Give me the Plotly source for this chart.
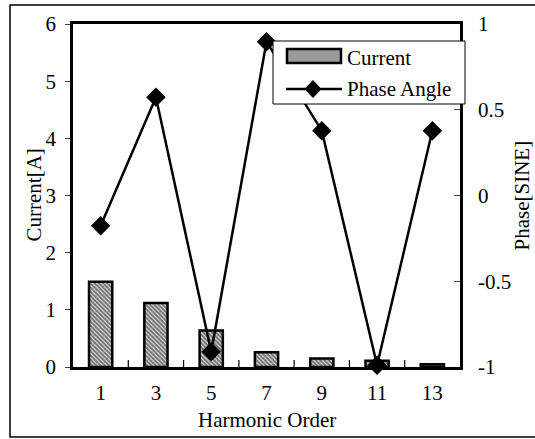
import plotly.graph_objects as go

orders = ["1", "3", "5", "7", "9", "11", "13"]
current = [1.49, 1.12, 0.64, 0.26, 0.15, 0.11, 0.05]
phase = [-0.176, 0.573, -0.911, 0.897, 0.378, -0.99, 0.378]
y1_ticks = [0, 1, 2, 3, 4, 5, 6]
y2_ticks = [-1, -0.5, 0, 0.5, 1]
y2_ticktext = ["-1", "-0.5", "0", "0.5", "1"]

FONT = "Liberation Serif"
FS = 21
L, R, T, B = 73, 460, 24, 367
W, H = 535, 439
pw = R - L
ph = B - T


def px(x):
    return (x - L) / pw


def py(y):
    return (B - y) / ph


fig = go.Figure()
fig.add_trace(go.Bar(
    x=orders, y=current, name="Current", width=0.42, showlegend=False,
    marker=dict(color="white", line=dict(color="black", width=2.5),
                pattern=dict(shape="\\", fgcolor="#000000", bgcolor="#dddddd",
                             size=3, solidity=0.6)),
))
fig.add_trace(go.Scatter(
    x=orders, y=phase, name="Phase Angle", yaxis="y2", mode="lines+markers",
    showlegend=False, cliponaxis=False,
    line=dict(color="black", width=2.5),
    marker=dict(symbol="diamond", size=15, color="black"),
))

shapes = []
# outer frame
shapes.append(dict(type="rect", xref="paper", yref="paper",
                   x0=px(10), x1=px(545), y0=py(437), y1=py(5),
                   line=dict(color="black", width=1.5), layer="below"))
# x-axis inner tick marks at category boundaries
for i in range(1, len(orders)):
    shapes.append(dict(type="line", xref="x", yref="paper",
                       x0=i - 0.5, x1=i - 0.5, y0=0, y1=7 / ph,
                       line=dict(color="black", width=1.2)))
# legend box
shapes.append(dict(type="rect", xref="paper", yref="paper",
                   x0=px(273), x1=px(465), y0=py(104), y1=py(41),
                   line=dict(color="black", width=1), fillcolor="white", layer="above"))
# legend: bar swatch
shapes.append(dict(type="rect", xref="paper", yref="paper",
                   x0=px(287), x1=px(341), y0=py(63), y1=py(49),
                   line=dict(color="black", width=2.5), fillcolor="#9a9a9a", layer="above"))
# legend: line
shapes.append(dict(type="line", xref="paper", yref="paper",
                   x0=px(286), x1=px(342), y0=py(89), y1=py(89),
                   line=dict(color="black", width=2.5), layer="above"))
# legend: diamond marker
cx, cy, hw, hh = 313, 89, 8, 8.5
shapes.append(dict(type="path", xref="paper", yref="paper", layer="above",
                   path=f"M {px(cx - hw)},{py(cy)} L {px(cx)},{py(cy - hh)} "
                        f"L {px(cx + hw)},{py(cy)} L {px(cx)},{py(cy + hh)} Z",
                   fillcolor="black", line=dict(color="black", width=1)))

annotations = [
    dict(text="Current", xref="paper", yref="paper", x=px(345), y=py(58),
         xanchor="left", yanchor="middle", showarrow=False,
         font=dict(family=FONT, size=FS, color="black")),
    dict(text="Phase Angle", xref="paper", yref="paper", x=px(345), y=py(89),
         xanchor="left", yanchor="middle", showarrow=False,
         font=dict(family=FONT, size=FS, color="black")),
    dict(text="Harmonic Order", xref="paper", yref="paper", x=0.5, y=py(420),
         xanchor="center", yanchor="middle", showarrow=False,
         font=dict(family=FONT, size=FS, color="black")),
    dict(text="Current[A]", xref="paper", yref="paper", x=px(33), y=0.5,
         xanchor="center", yanchor="middle", showarrow=False, textangle=-90,
         font=dict(family=FONT, size=FS, color="black")),
    dict(text="Phase[SINE]", xref="paper", yref="paper", x=px(521), y=0.5,
         xanchor="center", yanchor="middle", showarrow=False, textangle=-90,
         font=dict(family=FONT, size=FS, color="black")),
]

fig.update_layout(
    width=W, height=H,
    margin=dict(l=L, r=W - R, t=T, b=H - B, autoexpand=False),
    paper_bgcolor="white", plot_bgcolor="white",
    font=dict(family=FONT, size=FS, color="black"),
    showlegend=False,
    shapes=shapes, annotations=annotations,
    xaxis=dict(type="category", showline=True, linecolor="black", linewidth=2.5,
               mirror=True, ticks="", showgrid=False, automargin=False,
               ticklabelstandoff=5, range=[-0.5, 6.5]),
    yaxis=dict(range=[0, 6], tickvals=y1_ticks, showline=True, linecolor="black",
               linewidth=2.5, ticks="outside", ticklen=5, tickwidth=1.2,
               showgrid=False, zeroline=False, automargin=False,
               ticklabelstandoff=5),
    yaxis2=dict(range=[-1, 1], overlaying="y", side="right",
                showline=True, linecolor="black", linewidth=2.5,
                ticks="inside", ticklen=6, tickwidth=1.2, showgrid=False,
                zeroline=False, automargin=False,
                tickvals=y2_ticks, ticktext=y2_ticktext, ticklabelstandoff=11),
)

fig.write_html("out.html", config={"displayModeBar": False},
               post_script="document.body.style.margin='0';")
